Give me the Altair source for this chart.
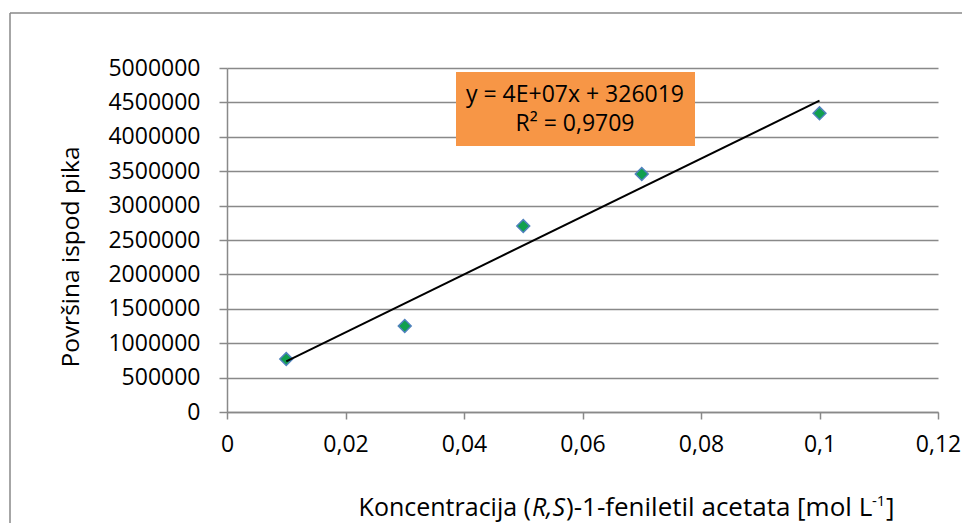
import altair as alt
import pandas as pd

# ---- data ----
conc = [0.01, 0.03, 0.05, 0.07, 0.1]
area = [770000, 1250000, 2703000, 3459000, 4341000]
x_ticks = [0, 0.02, 0.04, 0.06, 0.08, 0.1, 0.12]
y_ticks = [0, 500000, 1000000, 1500000, 2000000, 2500000, 3000000,
           3500000, 4000000, 4500000, 5000000]
eq_lines = ["y = 4E+07x + 326019", "R² = 0,9709"]
y_title = "Površina ispod pika"
x_title_parts = ["Koncentracija (", "R,S", ")-1-feniletil acetata [mol L", "-1", "]"]

FONT = "Open Sans"
GRAY = "#898989"

df = pd.DataFrame({"x": conc, "y": area})
one = pd.DataFrame({"d": [0]})

xs = alt.Scale(domain=[0, 0.12], nice=False)
ys = alt.Scale(domain=[0, 5000000], nice=False)

xaxis = alt.Axis(
    values=x_ticks, format=".2~f", labelExpr="replace(datum.label, '.', ',')",
    title=None, grid=False, domainColor=GRAY, tickColor=GRAY,
    tickSize=7, labelPadding=14, labelFontSize=23, labelFont=FONT,
    labelColor="#000000", domainWidth=1.5, tickWidth=1.5,
    labelOverlap=False, labelFlush=False, labelBound=False, labelLimit=0)
yaxis = alt.Axis(
    values=y_ticks, format="d", title=None, grid=True, gridColor=GRAY,
    gridWidth=1.5, domainColor=GRAY, tickColor=GRAY, tickSize=8,
    labelPadding=19, labelFontSize=23, labelFont=FONT,
    labelColor="#000000", domainWidth=1.5, tickWidth=1.5,
    labelOverlap=False)

base = alt.Chart(df)

points = base.mark_point(
    shape="diamond", filled=True, size=165, fill="#11a04e",
    stroke="#4f81bd", strokeWidth=1.5, opacity=1
).encode(
    x=alt.X("x:Q", scale=xs, axis=xaxis),
    y=alt.Y("y:Q", scale=ys, axis=yaxis),
)

trend = base.transform_regression("x", "y").mark_line(
    color="black", strokeWidth=2
).encode(x=alt.X("x:Q", scale=xs, axis=xaxis),
         y=alt.Y("y:Q", scale=ys, axis=yaxis))

box = alt.Chart(one).mark_rect(color="#f79646").encode(
    x=alt.value(229), x2=alt.value(468), y=alt.value(4), y2=alt.value(78))

eq1 = alt.Chart(one).mark_text(
    text=eq_lines[0], font=FONT, fontSize=23, align="center",
    baseline="alphabetic", color="black"
).encode(x=alt.value(348), y=alt.value(34))
eq2 = alt.Chart(one).mark_text(
    text=eq_lines[1], font=FONT, fontSize=23, align="center",
    baseline="alphabetic", color="black"
).encode(x=alt.value(348), y=alt.value(63))

ytitle = alt.Chart(one).mark_text(
    text=y_title, font=FONT, fontSize=24.5, angle=270, align="center",
    baseline="middle", color="black"
).encode(x=alt.value(-155), y=alt.value(189))

TY = 448
xt_a = alt.Chart(one).mark_text(
    text=x_title_parts[0], font=FONT, fontSize=25, align="right",
    baseline="alphabetic", color="black"
).encode(x=alt.value(304), y=alt.value(TY))
xt_b = alt.Chart(one).mark_text(
    text=x_title_parts[1], font=FONT, fontSize=25, fontStyle="italic",
    align="left", baseline="alphabetic", color="black"
).encode(x=alt.value(305), y=alt.value(TY))
xt_c = alt.Chart(one).mark_text(
    text=x_title_parts[2], font=FONT, fontSize=26, align="left",
    baseline="alphabetic", color="black"
).encode(x=alt.value(339), y=alt.value(TY))
xt_d = alt.Chart(one).mark_text(
    text=x_title_parts[3], font=FONT, fontSize=15, align="left",
    baseline="alphabetic", color="black"
).encode(x=alt.value(645), y=alt.value(TY - 10))
xt_e = alt.Chart(one).mark_text(
    text=x_title_parts[4], font=FONT, fontSize=26, align="left",
    baseline="alphabetic", color="black"
).encode(x=alt.value(659), y=alt.value(TY))

border_l = alt.Chart(one).mark_rule(color=GRAY, strokeWidth=1.5).encode(
    x=alt.value(-217), y=alt.value(-55), y2=alt.value(600))
border_t = alt.Chart(one).mark_rule(color=GRAY, strokeWidth=1.5).encode(
    x=alt.value(-217), x2=alt.value(900), y=alt.value(-55))

chart = alt.layer(
    border_l, border_t, points, trend, box, eq1, eq2, ytitle,
    xt_a, xt_b, xt_c, xt_d, xt_e
).properties(
    width=711, height=344,
    autosize=alt.AutoSizeParams(type="none"),
    padding={"left": 219, "top": 60, "right": 24, "bottom": 111},
    background="white",
).configure_view(stroke=None).configure_axisX(grid=False)

chart.save("out.html", embed_options={"renderer": "svg", "actions": False})
